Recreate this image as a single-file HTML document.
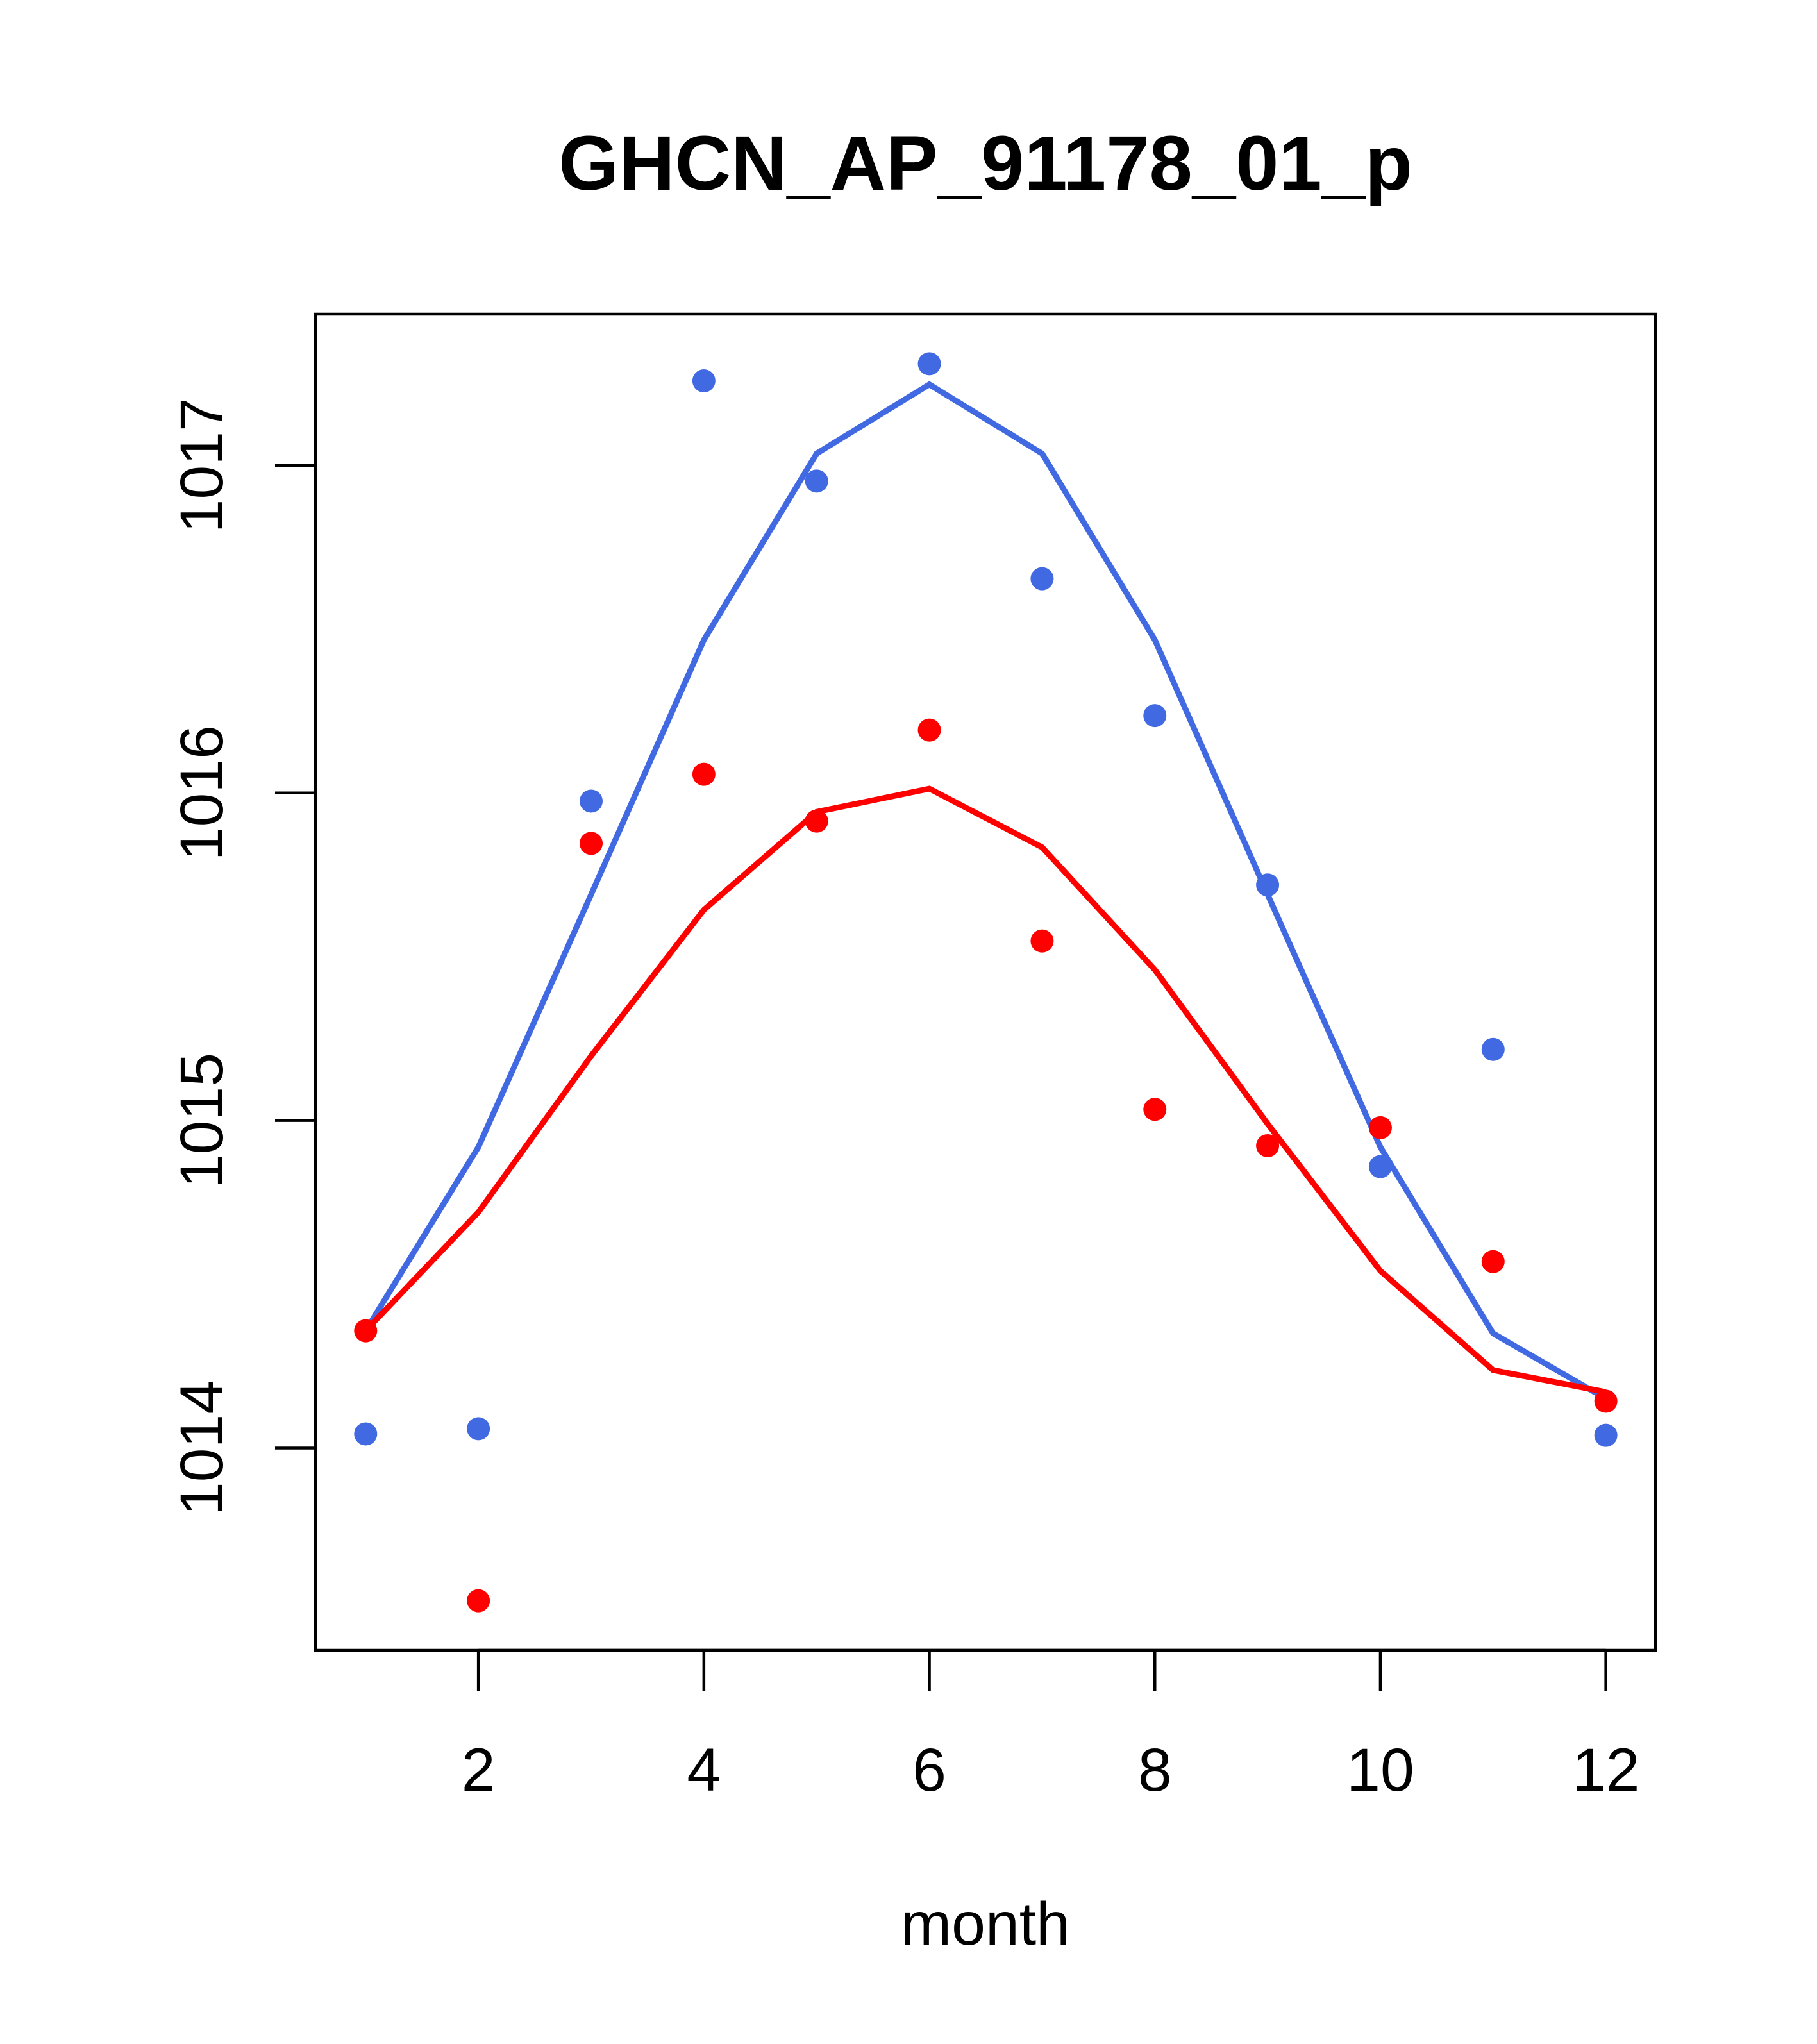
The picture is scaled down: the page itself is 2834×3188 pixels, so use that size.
<!DOCTYPE html>
<html><head><meta charset="utf-8"><style>
html,body{margin:0;padding:0;background:#fff}
svg{display:block}
text{font-family:"Liberation Sans",sans-serif;fill:#000}
</style></head><body>
<svg id="chart" width="2834" height="3188" viewBox="0 0 2834 3188" xmlns="http://www.w3.org/2000/svg">
<text x="1537" y="254" font-size="121" font-weight="bold" text-anchor="middle" dominant-baseline="central">GHCN_AP_91178_01_p</text>
<rect x="492" y="490" width="2090" height="2084" fill="none" stroke="#000" stroke-width="4.5"/>
<g id="xaxis"></g>
<g id="yaxis"></g>
<text x="1537" y="3001" font-size="95" text-anchor="middle" dominant-baseline="central">month</text>
<g id="series"></g>
</svg>
<script>
const months=[1,2,3,4,5,6,7,8,9,10,11,12];
const bluePoints=[1014.043,1014.059,1015.975,1017.258,1016.952,1017.31,1016.654,1016.236,1015.719,1014.859,1015.217,1014.039];
const blueLine=[1014.358,1014.919,1015.69,1016.467,1017.036,1017.247,1017.036,1016.467,1015.69,1014.919,1014.35,1014.151];
const redPoints=[1014.358,1013.534,1015.846,1016.057,1015.914,1016.192,1015.548,1015.034,1014.923,1014.978,1014.569,1014.143];
const redLine=[1014.358,1014.72,1015.197,1015.643,1015.942,1016.013,1015.834,1015.46,1014.99,1014.541,1014.238,1014.171];
const xTicks=[2,4,6,8,10,12];
const yTicks=[1014,1015,1016,1017];

const NS="http://www.w3.org/2000/svg";
function X(m){return 570.3+(m-1)*175.85;}
function Y(v){return 725.8+(1017-v)*510.9;}
function mk(tag,attrs,parent){const e=document.createElementNS(NS,tag);for(const k in attrs)e.setAttribute(k,attrs[k]);parent.appendChild(e);return e;}

const xa=document.getElementById('xaxis');
mk('line',{x1:X(2),x2:X(12),y1:2574,y2:2574,stroke:'#000','stroke-width':4.5},xa);
xTicks.forEach(t=>{
  const l=mk('line',{x1:X(t),x2:X(t),y1:2574,y2:2637,stroke:'#000','stroke-width':4.5},xa);
  
  
  const tx=mk('text',{x:X(t),y:2761,'font-size':95,'text-anchor':'middle','dominant-baseline':'central'},xa);
  tx.textContent=t;
  
  
});
const ya=document.getElementById('yaxis');
mk('line',{x1:492,x2:492,y1:Y(1014),y2:Y(1017),stroke:'#000','stroke-width':4.5},ya);
yTicks.forEach(t=>{
  const l=mk('line',{x1:429,x2:492,y1:Y(t),y2:Y(t),stroke:'#000','stroke-width':4.5},ya);
  
  
  const tx=mk('text',{x:315,y:Y(t),'font-size':95,'text-anchor':'middle','dominant-baseline':'central',transform:`rotate(-90 315 ${Y(t)})`},ya);
  tx.textContent=t;
  
  
});
const s=document.getElementById('series');
function line(vals,color,name){
  const p=mk('polyline',{points:vals.map((v,i)=>X(months[i])+','+Y(v)).join(' '),fill:'none',stroke:color,'stroke-width':9},s);
  
  
}
function pts(vals,color,name){
  vals.forEach((v,i)=>{
    const c=mk('circle',{cx:X(months[i]),cy:Y(v),r:18,fill:color},s);
    
    
  });
}
line(blueLine,'#4169e1','blue-fit-line');
line(redLine,'#ff0000','red-fit-line');
pts(bluePoints,'#4169e1','blue-point');
pts(redPoints,'#ff0000','red-point');
</script>
</body></html>
